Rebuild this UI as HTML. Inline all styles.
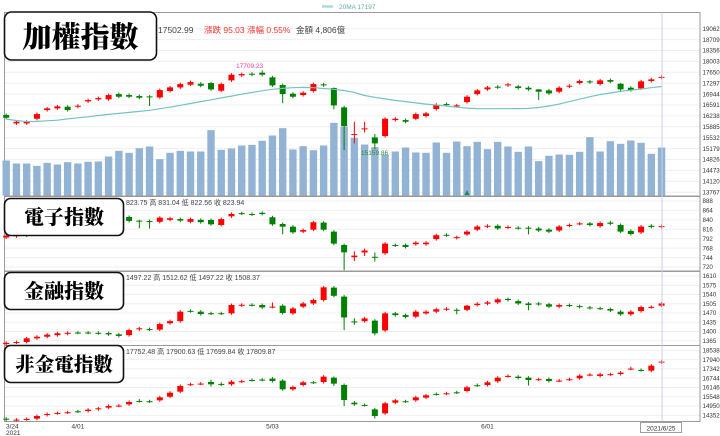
<!DOCTYPE html>
<html><head><meta charset="utf-8"><style>
html,body{margin:0;padding:0;background:#fff;}
svg{display:block;font-family:"Liberation Sans","Noto Sans CJK TC",sans-serif;}
.ttl{font-family:"Liberation Serif","Noto Serif CJK TC","Noto Serif CJK SC",serif;font-weight:900;fill:#000;}
</style></head><body>
<svg id="chart" width="720" height="436" viewBox="0 0 720 436" xmlns="http://www.w3.org/2000/svg">
<g id="grid"></g><g id="marks"></g><g id="over"></g>
</svg>
<script>
// ---- data ----
const dates = ["3/24","4/01","5/03","6/01","2021/6/25"];
const dateIdx = [1,8,27,48,65];
const mainTicks = [19062,18709,18356,18003,17650,17297,16944,16591,16238,15885,15532,15179,14826,14473,14120,13767];
const elecTicks = [888,864,840,816,792,768,744,720];
const finTicks = [1610,1575,1540,1505,1470,1435,1400,1365];
const nonTicks = [18538,17940,17342,16744,16146,15548,14950,14352];

const mO = [16265,15995,15995,16146,16427,16481,16535,16535,16708,16773,16773,16945,16913,16881,16870,16837,17043,17161,17248,17280,17302,17053,17388,17550,17604,17637,17485,17237,16956,16913,17043,17259,17140,16513,15628,15801,15541,15585,16103,16103,16146,16233,16459,16621,16557,16686,16945,17097,17183,17226,17194,17151,17097,17064,17021,17183,17302,17356,17269,17399,17280,17151,17129,17367,17475];
const mC = [16179,16049,16049,16297,16481,16546,16427,16567,16751,16816,16913,16859,16859,16827,16860,17075,17161,17269,17334,17215,17097,17269,17572,17593,17572,17572,17226,16945,16859,16989,17269,17226,16578,15909,15649,15833,15347,16146,16146,16049,16297,16319,16600,16589,16578,16859,17064,17161,17161,17259,17140,17097,17021,16967,17151,17215,17367,17323,17388,17345,17097,17075,17356,17421,17503];
const mHi = {15:16913,21:17340,26:17709,33:17160,35:16049,36:16049,37:15650,53:17110,61:17300};
const mLo = {15:16557,21:17050,28:16650,33:16450,34:15131,35:15347,36:15700,37:15159,53:16750};
const ma20 = [16135,16090,16050,16060,16080,16100,16140,16175,16210,16250,16285,16320,16350,16385,16420,16470,16520,16580,16640,16700,16760,16820,16880,16940,17000,17050,17100,17130,17150,17160,17150,17125,17100,17060,17000,16900,16840,16790,16740,16700,16660,16620,16590,16560,16520,16490,16475,16470,16470,16470,16475,16480,16510,16560,16620,16700,16780,16860,16930,16980,17030,17070,17110,17150,17190];
const vol = [105,96,96,89,98,93,100,96,101,102,117,134,128,142,147,109,128,134,132,132,196,137,141,150,152,164,180,202,138,148,136,150,218,207,173,153,145,123,132,144,129,128,159,128,162,148,161,139,161,147,131,147,103,119,123,122,131,175,132,163,155,165,158,125,144];

const eO = [795,798,800,805,809,814,817,822,825,829,833,837,847.3,838,837,835,840,842,835,840,839.7,827,849,857,855,858,846.5,829.5,822.7,810,815,833,810,776,745,757,746,755,776,776,778,778,791,802,794,803,815,823,825,820,820,820,818,815,813,825,830,831,824,833,827,812,808,825,822];
const eC = [800,801,806,810,815,818,823,826,830,834,838,842,837.2,837,835,845.6,844,838,842,834,828.7,842,855,856,854,855,828.7,822.7,808.3,814,834,815,779.5,757.4,749,762,745,779.5,775,771,782,782,801,801,796,810,823,825,818,822,819,819,813,810,823,827,831,827,832,830,810,804,823,822,823.9];
const eHi = {14:840,35:760,36:767,37:757};
const eLo = {14:818.5,15:818,28:803,34:712,35:735,36:748,37:734,52:803};

const fO = [1352,1358,1360,1374,1380,1386,1391,1396,1396,1395,1394,1389,1386,1408,1409,1407,1431,1439,1478,1475,1469,1469,1468.5,1499,1501,1500,1493,1497.5,1468.5,1494,1506,1519,1566,1532,1438,1439,1441,1404,1468.5,1462,1456,1468.5,1475,1484,1482,1482,1500,1505,1510,1523,1515,1506,1506,1503,1494,1500,1496,1491,1488,1485,1475,1465,1477,1492,1497.5];
const fC = [1357,1360,1374,1380,1388,1393,1395,1395,1395,1393,1389,1383,1405,1412,1407,1428,1439,1475,1477,1466,1468,1468,1500,1501,1500,1491,1494,1470,1487,1506,1519,1567,1535,1453,1437,1449.5,1393,1468.5,1462,1455,1475,1475,1484,1486,1481,1497.5,1505,1510,1521.5,1519,1506,1500,1503,1494,1500,1497.5,1492.5,1489,1487,1479,1465,1475,1492.5,1493,1506];
const fHi = {27:1510,35:1450,46:1500};
const fLo = {34:1405,35:1425,37:1385,45:1465,52:1480};

const nO = [14137,14060,14105,14137,14373,14490,14535,14612,14630,14738,14845,14965,15060,15280,15258,15318,15554,15876,16340,16385,16498,16375,16348,16535,16632,16652,16713,16584,16026,16305,16480,16498,16777,16305,15167,15020,14738,14480,15167,15258,15318,15489,15730,15760,15835,15919,16290,16305,16541,16880,16842,16777,16665,16692,16580,16665,16735,16965,16885,16990,17014,17350,17275,17228,17752];
const nC = [14072,14075,14120,14308,14437,14505,14550,14600,14716,14802,14953,14980,15210,15270,15250,15511,15811,16241,16355,16395,16348,16365,16520,16548,16622,16645,16563,16026,16176,16477,16470,16842,16391,15339,15060,15010,14308,15124,15318,15248,15511,15640,15720,15770,15825,16155,16280,16477,16777,16890,16756,16627,16675,16563,16590,16675,16906,16975,16992,17000,17100,17360,17265,17550,17810];
const nHi = {14:15400,21:16640,22:16480,31:16560,33:16850,62:17480,47:16400};
const nLo = {21:16200,22:16230,33:16250,34:14950,37:14150,52:16270,44:15650};

// ---- axes ----
const X0 = 6.2, DX = 10.24;
const xAt = i => X0 + (i-1)*DX;
const yMain = v => 28.7 + (19062 - v)/353*10.9;
const yElec = v => 201 + (888 - v)/24*9.43;
const yFin  = v => 276 + (1610 - v)/35*9.243;
const yNon  = v => 350.3 + (18538 - v)/598*9.29;
const volBase = 195.5, volScale = 1/3;

const NS = "http://www.w3.org/2000/svg";
const grid = document.getElementById('grid');
const marks = document.getElementById('marks');
const over = document.getElementById('over');
function mk(tag, attrs, parent){
  const e = document.createElementNS(NS, tag);
  for (const k in attrs) e.setAttribute(k, attrs[k]);
  parent.appendChild(e);
  return e;
}

const panels = [
  {name:'main', top:12.5, bot:196, ticks:mainTicks, y:yMain},
  {name:'electronics', top:196.5, bot:271, ticks:elecTicks, y:yElec},
  {name:'finance', top:271.5, bot:345.5, ticks:finTicks, y:yFin},
  {name:'non-fin-elec', top:345.5, bot:421.5, ticks:nonTicks, y:yNon}
];
panels.forEach(p => {
  p.ticks.forEach(t => {
    const yy = p.y(t);
    const gl = mk('line', {x1:5, x2:700, y1:yy, y2:yy, stroke:'#efefef', 'stroke-width':1}, grid);
    
    
    const tl = mk('text', {x:702.5, y:yy+2.2, 'font-size':6.2, fill:'#333'}, grid);
    tl.textContent = t;
    
    
  });
  const fr = mk('rect', {x:4.5, y:p.top, width:695.5, height:p.bot-p.top, fill:'none', stroke:'#9a9a9a', 'stroke-width':1}, grid);
  
  
});

vol.forEach((v, k) => {
  const i = k+1, h = v*volScale;
  const b = mk('rect', {x:xAt(i)-3.7, y:volBase-h, width:7.4, height:h, fill:'#93b3d4'}, marks);
  
  
});

function candles(O, C, Hi, Lo, yf, pname){
  O.forEach((o, k) => {
    const i = k+1, c = C[k];
    const up = c >= o;
    const col = up ? '#ff0000' : '#008000';
    const top = yf(Math.max(o,c)), bot = yf(Math.min(o,c));
    const hy = (Hi[i] !== undefined) ? yf(Hi[i]) : top - 1.5;
    const ly = (Lo[i] !== undefined) ? yf(Lo[i]) : bot + 1.5;
    const w = mk('line', {x1:xAt(i), x2:xAt(i), y1:hy, y2:ly, stroke:col, 'stroke-width':1}, marks);
    
    
    const r = mk('rect', {x:xAt(i)-3, y:top, width:6, height:Math.max(1, bot-top), fill:col}, marks);
    
    
  });
}
candles(mO, mC, mHi, mLo, yMain, 'taiex');
candles(eO, eC, eHi, eLo, yElec, 'electronics');
candles(fO, fC, fHi, fLo, yFin, 'finance');
candles(nO, nC, nHi, nLo, yNon, 'non-fin-elec');

const maPts = ma20.map((v,k) => xAt(k+1).toFixed(1) + ',' + yMain(v).toFixed(1)).join(' ');
const ma = mk('polyline', {points:maPts, fill:'none', stroke:'#74c4c2', 'stroke-width':1.2}, marks);



const ch = mk('line', {x1:xAt(65)+0.5, x2:xAt(65)+0.5, y1:12.5, y2:421.5, stroke:'#c7d3ea', 'stroke-width':1}, over);



dates.forEach((d, k) => {
  const i = dateIdx[k];
  if (k === dates.length-1) {
    const bx = mk('rect', {x:640.5, y:422.5, width:41, height:10, fill:'#fff', stroke:'#888', 'stroke-width':0.8}, over);
    
    
    const t = mk('text', {x:661, y:430.5, 'font-size':6.5, fill:'#333', 'text-anchor':'middle'}, over);
    t.textContent = d;
    
    
  } else if (k === 0) {
    const t = mk('text', {x:6, y:428.5, 'font-size':6.5, fill:'#333'}, over);
    t.textContent = d;
    
    
  } else {
    const t = mk('text', {x:xAt(i), y:428.5, 'font-size':6.5, fill:'#333', 'text-anchor':'middle'}, over);
    t.textContent = d;
    
    
  }
});

over.insertAdjacentHTML('beforeend', `
<text x="6" y="435" font-size="6.5" fill="#333">2021</text>
<line x1="322" x2="333" y1="6.5" y2="6.5" stroke="#a7dcdc" stroke-width="2.5"/>
<text x="339" y="9" font-size="6.5" fill="#6aa">20MA 17197</text>
<text x="158" y="33" font-size="8.5" fill="#444">17502.99</text>
<text x="204" y="33" font-size="8.5" fill="#ff3030">漲跌 95.03  漲幅  0.55%</text>
<text x="296" y="33" font-size="8.5" fill="#444">金額 4,806億</text>
<text x="236" y="68" font-size="6.5" fill="#ff3aa0">17709.23</text>
<text x="361" y="155" font-size="6.5" fill="#2a8a2a">15159.86</text>
<polygon points="464.5,195 467,190 469.5,195" fill="#1a8a5a"/>
<rect x="4.5" y="12" width="152" height="48" rx="7" fill="#fff" stroke="#111" stroke-width="1.6"/>
<text class="ttl" x="80.5" y="47" font-size="29" text-anchor="middle">加權指數</text>
<text x="126" y="205" font-size="7" fill="#444">823.75 高 831.04 低 822.56 收 823.94</text>
<rect x="4.5" y="198.5" width="119" height="37" rx="6" fill="#fff" stroke="#111" stroke-width="1.6"/>
<text class="ttl" x="64" y="224" font-size="20" text-anchor="middle">電子指數</text>
<text x="126" y="280" font-size="7" fill="#444">1497.22 高 1512.62 低 1497.22 收 1508.37</text>
<rect x="4.5" y="272.5" width="119" height="37" rx="6" fill="#fff" stroke="#111" stroke-width="1.6"/>
<text class="ttl" x="64" y="298" font-size="20" text-anchor="middle">金融指數</text>
<text x="126" y="354" font-size="7" fill="#444">17752.48 高 17900.63 低 17699.84 收 17809.87</text>
<rect x="4.5" y="345.5" width="119" height="37" rx="6" fill="#fff" stroke="#111" stroke-width="1.6"/>
<text class="ttl" x="64" y="371" font-size="19.5" text-anchor="middle">非金電指數</text>
`);
</script>
</body></html>
